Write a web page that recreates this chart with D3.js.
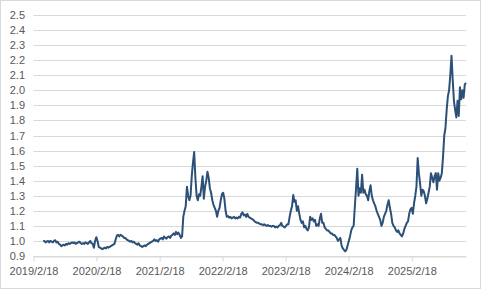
<!DOCTYPE html>
<html>
<head>
<meta charset="utf-8">
<script src="https://cdnjs.cloudflare.com/ajax/libs/d3/7.8.5/d3.min.js"></script>
<style>
  body { margin: 0; background: #fff; }
  text { font-family: "Liberation Sans", Arial, sans-serif; font-size: 11px; fill: #595959; }
</style>
</head>
<body>
<div id="chart"></div>
<script>
// weekly values starting 2019/4/15
var startDate = "2019/4/15";
var values = [
  1.00,1.00,0.99,0.995,1.00,0.99,1.00,0.995,0.99,1.00,1.005,0.99,0.995,0.98,0.975,
  0.965,0.97,0.975,0.97,0.98,0.975,0.985,0.98,
  0.985,0.99,0.985,0.99,0.98,0.985,0.99,0.995,0.985,
  0.98,0.985,0.98,0.99,0.985,0.98,0.99,1.00,0.985,0.98,
  0.955,1.00,1.025,1.00,0.96,0.955,
  0.95,0.945,0.95,0.955,0.95,0.96,0.955,0.96,
  0.965,0.97,0.975,0.98,
  1.01,1.035,1.04,
  1.03,1.04,1.035,1.03,1.02,1.02,
  1.01,1.005,1.00,0.995,1.00,
  0.99,0.995,0.985,0.98,0.975,0.985,0.97,0.965,0.96,0.965,
  0.97,0.965,0.975,0.98,0.985,0.99,0.995,1.00,
  1.01,1.00,1.005,0.995,1.01,1.015,
  1.02,1.01,1.03,1.02,1.015,1.025,1.03,1.02,1.035,1.04,
  1.05,1.04,1.06,1.045,1.055,1.04,1.02,
  1.03,1.16,1.20,1.23,1.36,1.30,1.27,1.30,1.43,1.52,1.59,1.42,1.30,1.27,1.31,
  1.30,1.36,1.43,1.28,1.36,1.40,1.46,1.42,1.35,1.32,1.27,1.24,1.22,1.20,1.16,
  1.20,1.22,1.27,1.31,1.32,1.28,1.20,1.16,
  1.165,1.155,1.16,1.15,1.155,1.16,1.15,1.155,1.15,1.16,1.155,
  1.18,1.19,1.17,1.175,1.16,1.18,
  1.16,1.155,1.15,1.145,1.14,
  1.13,1.125,1.12,1.12,
  1.115,1.11,1.11,1.105,1.11,1.105,1.10,1.105,1.10,1.10,1.095,1.10,1.10,
  1.09,1.095,1.09,1.10,1.105,
  1.12,1.10,1.095,1.09,1.10,1.11,
  1.11,1.16,1.20,1.23,1.305,1.26,1.27,1.20,1.23,1.18,1.14,1.12,1.13,1.09,1.10,
  1.08,1.07,1.09,1.16,1.14,1.15,1.13,1.14,1.10,1.11,1.10,1.15,1.18,1.12,1.12,
  1.09,1.08,1.07,1.07,1.06,1.05,1.05,1.04,1.04,1.03,1.02,1.00,1.01,1.02,0.97,
  0.95,0.94,0.93,0.94,0.97,1.00,1.03,1.07,1.09,1.10,1.23,1.35,1.48,1.30,1.35,
  1.32,1.44,1.32,1.34,1.31,1.30,1.27,1.33,1.37,1.30,1.27,1.25,1.23,1.20,1.18,
  1.16,1.14,1.10,1.12,1.16,1.18,1.20,1.24,1.27,1.22,1.18,1.12,1.10,1.09,1.07,
  1.06,1.07,1.05,1.04,1.03,1.05,1.08,1.10,1.12,1.13,1.18,1.21,1.22,1.18,1.25,
  1.30,1.36,1.55,1.45,1.38,1.30,1.34,1.33,1.30,1.25,1.28,1.32,1.36,1.45,1.42,
  1.39,1.43,1.45,1.34,1.45,1.40,1.42,1.45,1.56,1.70,1.75,1.87,1.96,2.00,2.10,
  2.23,2.07,1.93,1.87,1.82,1.93,1.83,2.02,1.94,2.00,1.95,2.04,2.05
];
var xTickLabels = ["2019/2/18","2020/2/18","2021/2/18","2022/2/18","2023/2/18","2024/2/18","2025/2/18"];
var yTicks = [0.9,1.0,1.1,1.2,1.3,1.4,1.5,1.6,1.7,1.8,1.9,2.0,2.1,2.2,2.3,2.4,2.5];

window.onload = init;

function init() {
    var w = 481;
    var h = 289;
    var parse = d3.timeParse("%Y/%m/%d");
    var start = parse(startDate);

    var data = values.map(function(v, i) {
        return { date: d3.timeDay.offset(start, i * 7), value: v };
    });

    var svg = d3.select("#chart")
                .append("svg")
                .attr("width", w)
                .attr("height", h);

    // chart border
    svg.append("rect")
        .attr("x", 0.5).attr("y", 0.5)
        .attr("width", w - 1).attr("height", h - 1)
        .attr("fill", "#fff")
        .attr("stroke", "#d9d9d9");

    var x = d3.scaleTime()
        .domain([parse(xTickLabels[0]), data[data.length - 1].date])
        .range([33.5, 466]);

    var y = d3.scaleLinear()
        .domain([0.9, 2.5])
        .range([256, 15]);

    // gridlines
    svg.selectAll("line.grid")
        .data(yTicks)
        .enter()
        .append("line")
        .attr("class", "grid")
        .attr("x1", x.range()[0])
        .attr("x2", x.range()[1])
        .attr("y1", function(d) { return Math.round(y(d)) + 0.5; })
        .attr("y2", function(d) { return Math.round(y(d)) + 0.5; })
        .attr("stroke", "#d9d9d9")
        .attr("stroke-width", 1);

    // y labels
    svg.selectAll("text.ylab")
        .data(yTicks)
        .enter()
        .append("text")
        .attr("class", "ylab")
        .attr("x", 25)
        .attr("y", function(d) { return Math.round(y(d)) + 4; })
        .attr("text-anchor", "end")
        .text(function(d) { return d3.format(".1f")(d); });

    // x axis
    var xAxis = d3.axisBottom(x)
        .tickValues(xTickLabels.map(parse))
        .tickFormat(d3.timeFormat("%Y/%-m/%-d"))
        .tickSizeInner(5)
        .tickSizeOuter(0)
        .tickPadding(6);

    var gx = svg.append("g")
        .attr("transform", "translate(0," + (Math.round(y(0.9)) + 0.5) + ")")
        .call(xAxis);
    gx.select(".domain").attr("stroke", "#d9d9d9");
    gx.selectAll(".tick line").attr("stroke", "#d9d9d9");
    gx.selectAll(".tick text")
        .attr("fill", "#595959")
        .style("font-family", "'Liberation Sans', Arial, sans-serif")
        .style("font-size", "11px");

    // line
    var line = d3.line()
        .x(function(d) { return x(d.date); })
        .y(function(d) { return y(d.value); });

    svg.append("path")
        .datum(data)
        .attr("d", line)
        .attr("fill", "none")
        .attr("stroke", "#2c5078")
        .attr("stroke-width", 2)
        .attr("stroke-linejoin", "round");
}
</script>
</body>
</html>
